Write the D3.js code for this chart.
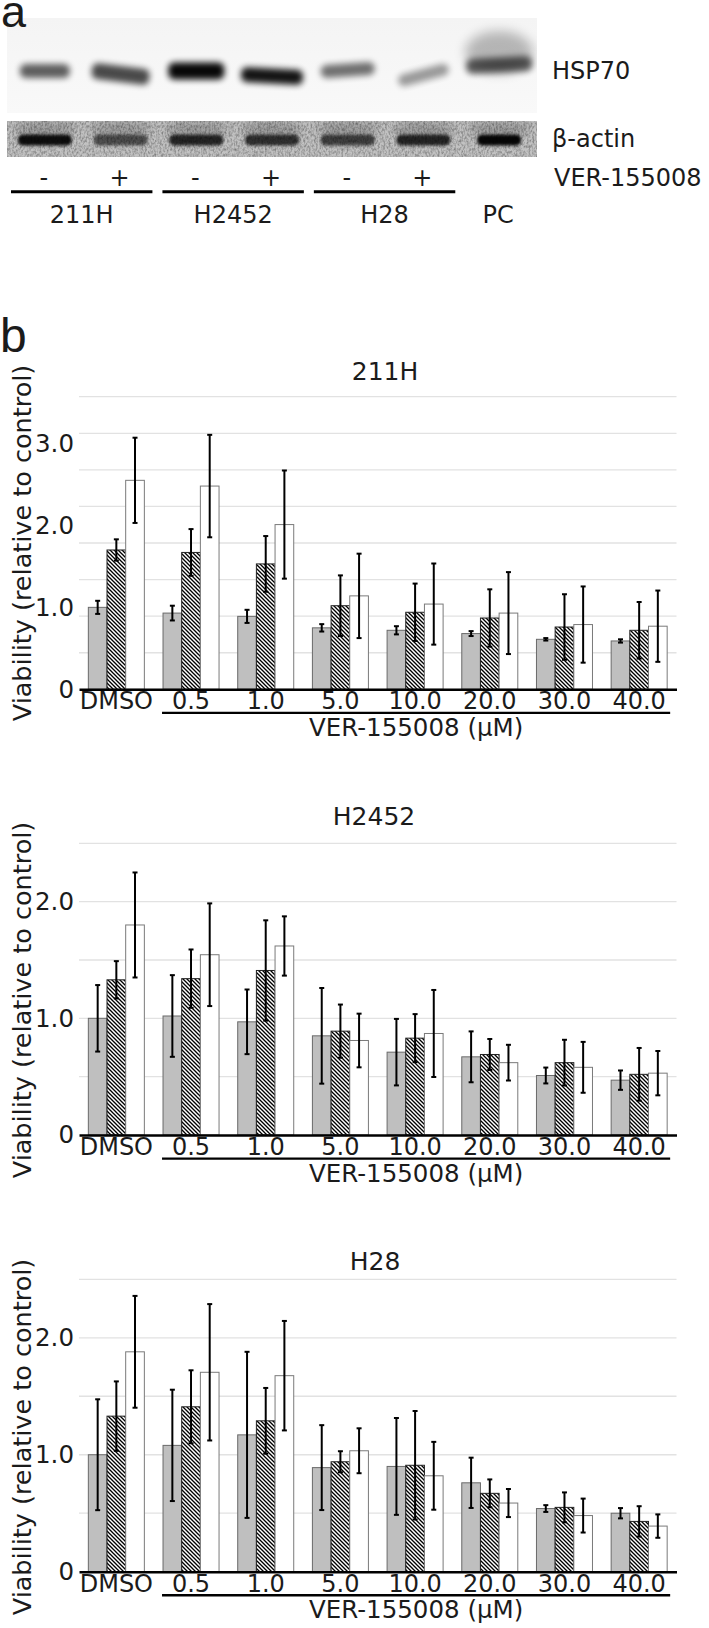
<!DOCTYPE html>
<html><head><meta charset="utf-8">
<script src="https://cdn.jsdelivr.net/npm/d3@7"></script>
<style>
body{margin:0;background:#fff}
svg{display:block}
text{font-family:"DejaVu Sans",Verdana,sans-serif;fill:#1b1b1b}
</style>
</head><body>
<svg id="c" width="709" height="1628"></svg>
<script>
// ---------------- data ----------------
const concentrations = ["DMSO","0.5","1.0","5.0","10.0","20.0","30.0","40.0"];
const seriesNames = ["grey","hatched","white"];

const mean211H_grey    = [1.00,0.93,0.89,0.75,0.72,0.68,0.61,0.59];
const err211H_grey     = [0.08,0.09,0.08,0.045,0.05,0.03,0.015,0.02];
const mean211H_hatched = [1.70,1.67,1.53,1.02,0.94,0.87,0.76,0.72];
const err211H_hatched  = [0.13,0.285,0.34,0.37,0.35,0.35,0.40,0.345];
const mean211H_white   = [2.55,2.48,2.01,1.14,1.04,0.93,0.79,0.77];
const err211H_white    = [0.52,0.625,0.66,0.515,0.495,0.50,0.465,0.435];

const meanH2452_grey    = [1.00,1.02,0.97,0.85,0.71,0.67,0.51,0.47];
const errH2452_grey     = [0.285,0.35,0.277,0.41,0.285,0.218,0.068,0.083];
const meanH2452_hatched = [1.33,1.34,1.41,0.89,0.83,0.69,0.62,0.52];
const errH2452_hatched  = [0.16,0.25,0.43,0.228,0.206,0.133,0.196,0.226];
const meanH2452_white   = [1.80,1.545,1.62,0.81,0.87,0.62,0.58,0.53];
const errH2452_white    = [0.45,0.44,0.254,0.23,0.373,0.153,0.218,0.19];

const meanH28_grey    = [1.00,1.08,1.17,0.89,0.90,0.76,0.54,0.50];
const errH28_grey     = [0.474,0.476,0.71,0.363,0.414,0.215,0.029,0.044];
const meanH28_hatched = [1.33,1.41,1.29,0.94,0.91,0.67,0.55,0.43];
const errH28_hatched  = [0.297,0.312,0.281,0.09,0.464,0.119,0.128,0.13];
const meanH28_white   = [1.88,1.705,1.676,1.034,0.82,0.587,0.48,0.39];
const errH28_white    = [0.478,0.583,0.468,0.192,0.29,0.12,0.145,0.10];

const tickValues211H = [0,1,2,3];
const tickValuesH = [0,1,2];

// western blot (panel a)
const blotLanes = ["211H -","211H +","H2452 -","H2452 +","H28 -","H28 +","PC"];
const treatment = ["-","+","-","+","-","+",""];
const blotGroups = ["211H","H2452","H28","PC"];
const hspIntensity   = [0.62,0.70,0.97,0.92,0.55,0.38,0.62];
const actinIntensity = [0.92,0.58,0.80,0.74,0.66,0.80,0.96];

// ---------------- drawing ----------------
const svg = d3.select("#c");
svg.append("rect").attr("width",709).attr("height",1628).attr("fill","#fff");
const defs = svg.append("defs");

// hatch pattern
const pat = defs.append("pattern").attr("id","hatch").attr("patternUnits","userSpaceOnUse")
  .attr("width",4).attr("height",4);
pat.append("rect").attr("width",4).attr("height",4).attr("fill","#fff");
pat.append("path").attr("d","M0,0L4,4M-1,3L1,5M3,-1L5,1").attr("stroke","#000").attr("stroke-width",1.35);

// blur filters
[["blur1",1.8],["blur2",3],["blur3",4],["blur5",6]].forEach(([id,s])=>{
  defs.append("filter").attr("id",id).attr("x","-50%").attr("y","-50%").attr("width","200%").attr("height","200%")
    .append("feGaussianBlur").attr("stdDeviation",s);
});
// noise filter
const nf = defs.append("filter").attr("id","noise").attr("x",0).attr("y",0).attr("width",1).attr("height",1);
nf.append("feTurbulence").attr("type","fractalNoise").attr("baseFrequency","0.55 0.35").attr("numOctaves",2).attr("seed",4).attr("result","t");
nf.append("feColorMatrix").attr("type","matrix")
  .attr("values","0 0 0 0 0  0 0 0 0 0  0 0 0 0 0  -1.2 0 0 0 0.75");

// ---- panel a ----
const lane = d3.scaleBand().domain(blotLanes).range([7,537]);
const lc = d => lane(d) + lane.bandwidth()/2;
const gA = svg.append("g");

svg.append("text").attr("x",1).attr("y",27).style("font-family","'Liberation Sans',Arial,sans-serif")
  .style("font-size","45px").text("a");

// upper blot
const upGrad = defs.append("linearGradient").attr("id","upg").attr("x1",0).attr("y1",0).attr("x2",0).attr("y2",1);
upGrad.append("stop").attr("offset",0).attr("stop-color","#f4f4f4");
upGrad.append("stop").attr("offset",1).attr("stop-color","#f9f9f9");
gA.append("rect").attr("x",7).attr("y",18).attr("width",530).attr("height",95).attr("fill","url(#upg)");

const hspCY   = [71,74,71,76,70,75,65];
const hspTilt = [0,7,0,3,-4,-15,-3];
const hspW    = [50,58,56,62,54,52,66];
const hspH    = [14,16,17,15,13,12,15];
// PC diffuse upper smear
gA.append("ellipse").attr("cx",lc("PC")).attr("cy",52).attr("rx",34).attr("ry",21)
  .attr("fill","#000").attr("opacity",0.26).attr("filter","url(#blur5)");
gA.selectAll(".hsp").data(blotLanes).join("rect").attr("class","hsp")
  .attr("transform",(d,i)=>`translate(${lc(d)},${hspCY[i]}) rotate(${hspTilt[i]})`)
  .attr("x",(d,i)=>-hspW[i]/2).attr("y",(d,i)=>-hspH[i]/2)
  .attr("width",(d,i)=>hspW[i]).attr("height",(d,i)=>hspH[i]).attr("rx",6)
  .attr("fill","#000").attr("opacity",(d,i)=>hspIntensity[i]).attr("filter","url(#blur2)");

// lower blot
const gL = gA.append("g");
gL.append("rect").attr("x",7).attr("y",121).attr("width",530).attr("height",36).attr("fill","#c2c2c2");
gL.selectAll(".smear").data(blotLanes).join("ellipse").attr("class","smear")
  .attr("cx",d=>lc(d)).attr("cy",129).attr("rx",31).attr("ry",7)
  .attr("fill","#000").attr("opacity",0.2).attr("filter","url(#blur3)");
gL.selectAll(".act").data(blotLanes).join("rect").attr("class","act")
  .attr("x",(d,i)=>lc(d)-(i===6?22:27)).attr("y",134.5).attr("width",(d,i)=>i===6?44:54).attr("height",11).attr("rx",5)
  .attr("fill","#000").attr("opacity",(d,i)=>actinIntensity[i]).attr("filter","url(#blur1)");
gL.append("rect").attr("x",7).attr("y",121).attr("width",530).attr("height",36).attr("fill","#888")
  .attr("filter","url(#noise)").attr("opacity",0.6);
const cp = defs.append("clipPath").attr("id","blotclip");
cp.append("rect").attr("x",7).attr("y",18).attr("width",530).attr("height",95);
cp.append("rect").attr("x",7).attr("y",121).attr("width",530).attr("height",36);
gA.attr("clip-path","url(#blotclip)");

// labels right
svg.append("text").attr("x",552).attr("y",78.5).style("font-size","24px").text("HSP70");
svg.append("text").attr("x",552).attr("y",146.5).style("font-size","24px").text("β-actin");
svg.append("text").attr("x",554).attr("y",185.5).style("font-size","24px").text("VER-155008");

svg.selectAll(".trt").data(blotLanes.filter((d,i)=>treatment[i]!=="")).join("text").attr("class","trt")
  .attr("x",d=>lc(d)-1).attr("y",185.5).attr("text-anchor","middle").style("font-size","24px")
  .text((d)=>treatment[blotLanes.indexOf(d)]);

const groupLanes = [["211H -","211H +"],["H2452 -","H2452 +"],["H28 -","H28 +"],["PC","PC"]];
groupLanes.forEach((gl,i)=>{
  const x0 = lane(gl[0])+4, x1 = lane(gl[1])+lane.bandwidth()-6;
  if (i<3) svg.append("line").attr("x1",x0).attr("x2",x1).attr("y1",191.7).attr("y2",191.7)
    .attr("stroke","#000").attr("stroke-width",3);
  svg.append("text").attr("x",(x0+x1)/2).attr("y",223).attr("text-anchor","middle")
    .style("font-size","24px").text(blotGroups[i]);
});

// ---- panel b ----
svg.append("text").attr("x",0).attr("y",352).style("font-family","'Liberation Sans',Arial,sans-serif")
  .style("font-size","48px").text("b");

const x = d3.scaleBand().domain(concentrations).range([79,676.5]).paddingInner(0.25).paddingOuter(0.125);
const xs = d3.scaleBand().domain(seriesNames).range([0,x.bandwidth()]);

const panels = [
  {name:"211H", top:396.7, base:689.3, max:8*0.4463, grid:0.4463, ticks:tickValues211H, titleX:385, titleY:380, labelCY:543,
   means:[mean211H_grey,mean211H_hatched,mean211H_white], errs:[err211H_grey,err211H_hatched,err211H_white]},
  {name:"H2452", top:843.3, base:1135, max:2.5, grid:0.5, ticks:tickValuesH, titleX:374, titleY:825, labelCY:1000,
   means:[meanH2452_grey,meanH2452_hatched,meanH2452_white], errs:[errH2452_grey,errH2452_hatched,errH2452_white]},
  {name:"H28", top:1279.3, base:1571.7, max:2.5, grid:0.5, ticks:tickValuesH, titleX:375, titleY:1270, labelCY:1437,
   means:[meanH28_grey,meanH28_hatched,meanH28_white], errs:[errH28_grey,errH28_hatched,errH28_white]},
];
const fills = {grey:"#bfbfbf", hatched:"url(#hatch)", white:"#fff"};
const strokes = {grey:"#6a6a6a", hatched:"#222", white:"#7a7a7a"};

panels.forEach(p=>{
  const y = d3.scaleLinear().domain([0,p.max]).range([p.base,p.top]);
  const g = svg.append("g");
  const gv = d3.range(1,Math.round(p.max/p.grid)+1).map(k=>k*p.grid);
  g.selectAll(".grid").data(gv).join("line")
    .attr("x1",79).attr("x2",676.5).attr("y1",d=>y(d)).attr("y2",d=>y(d))
    .attr("stroke","#e2e2e2").attr("stroke-width",1.3);
  svg.append("text").attr("x",p.titleX).attr("y",p.titleY).attr("text-anchor","middle")
    .style("font-size","25px").text(p.name);
  svg.append("text").attr("transform",`translate(31,${p.labelCY}) rotate(-90)`).attr("text-anchor","middle")
    .style("font-size","25.5px").text("Viability (relative to control)");
  const ya = g.append("g").attr("transform","translate(79,0)")
    .call(d3.axisLeft(y).tickValues(p.ticks).tickSize(0).tickPadding(5).tickFormat(d=>d===0?"0":d.toFixed(1)));
  ya.select(".domain").remove();
  ya.selectAll("text").style("font-size","24.5px").style("font-family","'DejaVu Sans',Verdana,sans-serif").attr("fill","#1b1b1b");
  const rows = [];
  seriesNames.forEach((s,si)=>concentrations.forEach((c,ci)=>rows.push({s,c,v:p.means[si][ci],e:p.errs[si][ci]})));
  g.selectAll(".bar").data(rows).join("rect")
    .attr("x",d=>x(d.c)+xs(d.s)).attr("width",xs.bandwidth())
    .attr("y",d=>y(d.v)).attr("height",d=>y(0)-y(d.v))
    .attr("fill",d=>fills[d.s]).attr("stroke",d=>strokes[d.s]).attr("stroke-width",1);
  const eb = g.selectAll(".eb").data(rows).join("g")
    .attr("transform",d=>`translate(${x(d.c)+xs(d.s)+xs.bandwidth()/2},0)`);
  eb.append("line").attr("y1",d=>y(d.v+d.e)).attr("y2",d=>y(d.v-d.e)).attr("stroke","#000").attr("stroke-width",2);
  eb.append("line").attr("x1",-2.5).attr("x2",2.5).attr("y1",d=>y(d.v+d.e)).attr("y2",d=>y(d.v+d.e)).attr("stroke","#000").attr("stroke-width",2);
  eb.append("line").attr("x1",-2.5).attr("x2",2.5).attr("y1",d=>y(d.v-d.e)).attr("y2",d=>y(d.v-d.e)).attr("stroke","#000").attr("stroke-width",2);
  const xa = g.append("g").attr("transform",`translate(0,${p.base})`)
    .call(d3.axisBottom(x).tickSize(0).tickSizeOuter(0).tickPadding(3));
  xa.select(".domain").attr("stroke","#000").attr("stroke-width",2.6);
  xa.selectAll("text").style("font-size","24px").style("font-family","'DejaVu Sans',Verdana,sans-serif").attr("fill","#1b1b1b");
  const ux0 = x(concentrations[1])+xs("grey")-1, ux1 = x(concentrations[7])+x.bandwidth()+3;
  g.append("line").attr("x1",ux0).attr("x2",ux1).attr("y1",p.base+23.6).attr("y2",p.base+23.6)
    .attr("stroke","#000").attr("stroke-width",2.4);
  svg.append("text").attr("x",(ux0+ux1)/2).attr("y",p.base+46.6).attr("text-anchor","middle")
    .style("font-size","24.5px").text("VER-155008 (μM)");
});
</script>
</body></html>
